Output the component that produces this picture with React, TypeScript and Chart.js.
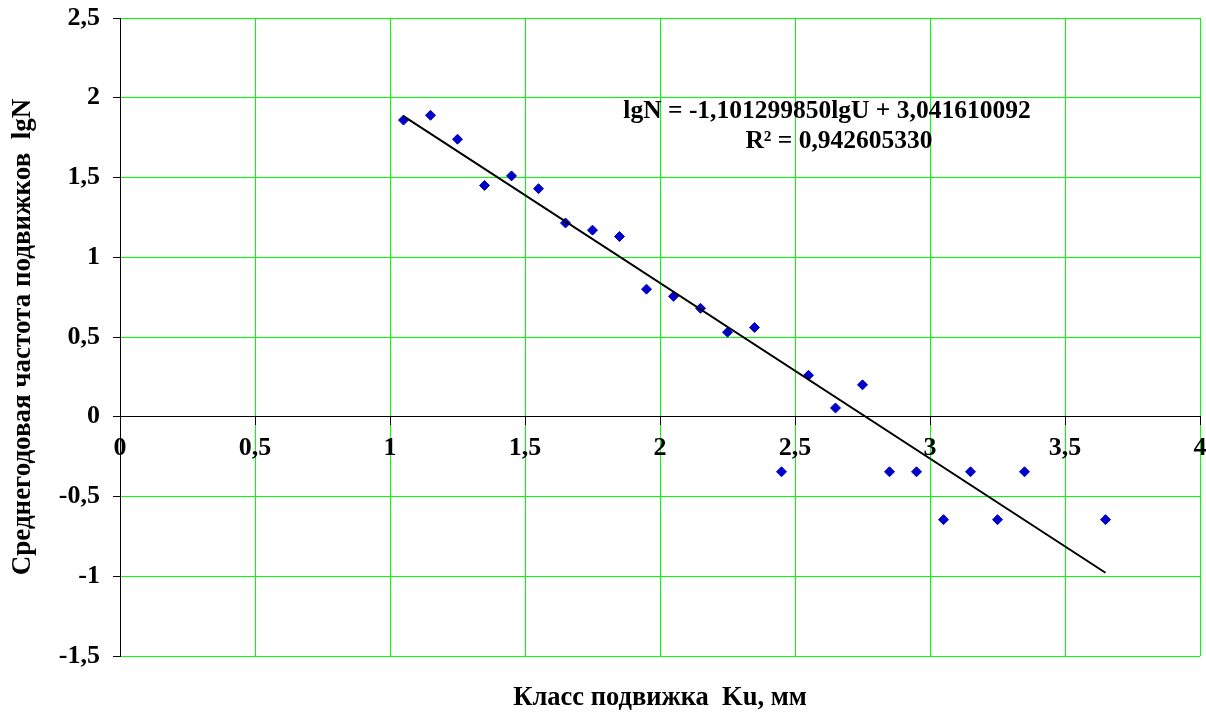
import React, { useEffect, useRef } from "react";
import { Chart, registerables } from "chart.js";

Chart.register(...registerables);

// Data
const classValues = [
  1.05, 1.15, 1.25, 1.35, 1.45, 1.55, 1.65, 1.75, 1.85, 1.95, 2.05, 2.15, 2.25,
  2.35, 2.45, 2.55, 2.65, 2.75, 2.85, 2.95, 3.05, 3.15, 3.25, 3.35, 3.65,
];
const frequencyValues = [
  1.86, 1.89, 1.74, 1.45, 1.51, 1.43, 1.215, 1.17, 1.13, 0.8, 0.755, 0.68, 0.53,
  0.56, -0.345, 0.26, 0.055, 0.2, -0.345, -0.345, -0.645, -0.345, -0.645, -0.345,
  -0.645,
];
const trendX = [1.05, 3.65];
const trendY = [1.885, -0.978];

const xMin = 0;
const xMax = 4;
const yMin = -1.5;
const yMax = 2.5;
const tickStep = 0.5;

const equationText = "lgN = -1,101299850lgU + 3,041610092";
const r2Text = "R² = 0,942605330";
const xTitle = "Класс подвижка  Ku, мм";
const yTitle = "Среднегодовая частота подвижков  lgN";

const FONT = '"Liberation Serif", "Times New Roman", serif';
const GRID = "#00ff00";

const fmt = (v: number | string) => String(v).replace(".", ",");

const textPlugin = {
  id: "textPlugin",
  afterDraw(chart: any) {
    const { ctx, chartArea } = chart;
    ctx.save();
    ctx.fillStyle = "#000";
    ctx.textAlign = "center";
    ctx.textBaseline = "middle";
    ctx.font = `bold 26.5px ${FONT}`;
    const cx = (chartArea.left + chartArea.right) / 2;
    ctx.fillText(xTitle, cx, 698);
    ctx.save();
    ctx.translate(23, (chartArea.top + chartArea.bottom) / 2);
    ctx.rotate(-Math.PI / 2);
    ctx.font = `bold 27px ${FONT}`;
    ctx.fillText(yTitle, 0, 0);
    ctx.restore();
    ctx.font = `bold 25.5px ${FONT}`;
    ctx.fillText(equationText, 827, 111);
    ctx.fillText(r2Text, 839, 141);
    ctx.restore();
  },
};

export default function App() {
  const canvasRef = useRef<HTMLCanvasElement | null>(null);

  useEffect(() => {
    document.body.style.margin = "0";
    const canvas = canvasRef.current;
    if (!canvas) return;
    const tickFont = { family: FONT, size: 26, weight: "bold" as const };
    const chart = new Chart(canvas, {
      type: "scatter",
      data: {
        datasets: [
          {
            label: "points",
            data: classValues.map((x, i) => ({ x, y: frequencyValues[i] })),
            pointStyle: "rectRot",
            pointRadius: 5,
            backgroundColor: "#0000c8",
            borderColor: "#0000c8",
            borderWidth: 1,
            order: 2,
          },
          {
            label: "trend",
            data: trendX.map((x, i) => ({ x, y: trendY[i] })),
            showLine: true,
            borderColor: "#000",
            borderWidth: 2,
            pointRadius: 0,
            order: 1,
          } as any,
        ],
      },
      options: {
        animation: false,
        responsive: true,
        maintainAspectRatio: false,
        devicePixelRatio: 1,
        layout: { padding: { left: 0, top: 18, right: 5, bottom: 57 } },
        plugins: {
          legend: { display: false },
          tooltip: { enabled: false },
        },
        scales: {
          x: {
            type: "linear",
            position: { y: 0 } as any,
            min: xMin,
            max: xMax,
            ticks: {
              stepSize: tickStep,
              callback: (v: any) => fmt(v),
              font: tickFont,
              color: "#000",
              padding: 8,
              maxRotation: 0,
              autoSkip: false,
            },
            grid: {
              color: (c: any) => (c.tick && c.tick.value === 0 ? "#000" : GRID),
              tickColor: "#000",
              tickLength: 8,
              lineWidth: 1,
            },
            border: { color: "#000", width: 1 },
            afterFit: (s: any) => {
              s.paddingLeft = 0;
              s.paddingRight = 0;
            },
          },
          y: {
            type: "linear",
            min: yMin,
            max: yMax,
            ticks: {
              stepSize: tickStep,
              callback: (v: any) => fmt(v),
              font: tickFont,
              color: "#000",
              padding: 13,
            },
            grid: {
              color: (c: any) => (c.tick && c.tick.value === 0 ? "#000" : GRID),
              tickColor: "#000",
              tickLength: 7,
              lineWidth: 1,
            },
            border: { color: "#000", width: 1 },
            afterFit: (s: any) => {
              s.width = 120;
              s.paddingTop = 0;
              s.paddingBottom = 0;
            },
          },
        },
      },
      plugins: [textPlugin],
    });
    return () => chart.destroy();
  }, []);

  return (
    <div style={{ width: 1206, height: 713, position: "relative" }}>
      <canvas ref={canvasRef} />
    </div>
  );
}
